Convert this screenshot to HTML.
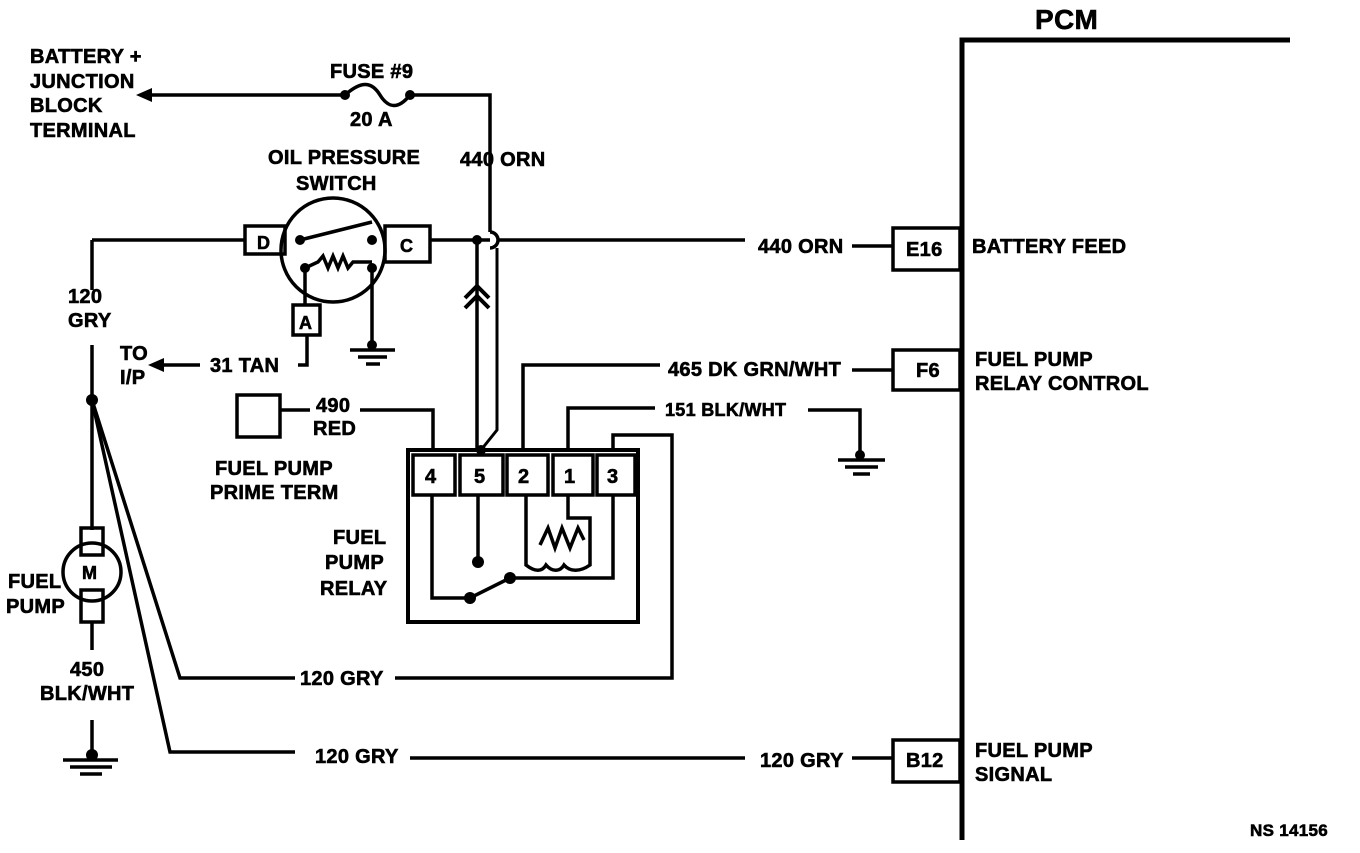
<!DOCTYPE html>
<html><head><meta charset="utf-8"><style>
body{margin:0;background:#fff}
svg text{font-family:"Liberation Sans",sans-serif;font-weight:bold;font-size:20px;letter-spacing:0.3px;fill:#000;stroke:#000;stroke-width:0.6px}
</style></head><body>
<svg width="1360" height="848" viewBox="0 0 1360 848" xmlns="http://www.w3.org/2000/svg">
<g fill="none" stroke="#000" stroke-width="3.5">
<!-- PCM -->
<path d="M962 840V40H1290" stroke-width="5"/>
<rect x="893" y="228" width="67" height="42"/>
<rect x="893" y="350" width="67" height="40"/>
<rect x="893" y="740" width="67" height="42"/>
<!-- battery/fuse -->
<path d="M150 95H345"/>
<path d="M345 95C362 80 372 82 380 95S398 110 410 95"/>
<path d="M410 95H490V232"/>
<path d="M490 232a8 8 0 0 1 0 16"/>
<path d="M497 248V430L481 450" stroke-width="3"/>
<!-- main horizontal -->
<path d="M92 240H245"/>
<rect x="245" y="226" width="40" height="28"/>
<circle cx="333" cy="250" r="52"/>
<rect x="385" y="226" width="45" height="36"/>
<path d="M430 240H490M498 240H745M852 246H893"/>
<path d="M300 240L372 222M305 268L318 262L323 256L328 268L333 256L338 268L343 256L348 268L353 262H372"/>
<path d="M305 268V305M372 268V345"/>
<rect x="293" y="305" width="27" height="30"/>
<path d="M307 335V365H298"/>
<path d="M200 365H155"/>
<!-- chevron line -->
<path d="M477 240V450"/>
<path d="M465 298L477 286L489 298M465 308L477 296L489 308" stroke-width="4"/>
<!-- ground switch -->
<path d="M350 350H395M358 357H387M366 364H380"/>
<!-- left -->
<path d="M92 240V290M92 345V530M92 622V650M92 720V755"/>
<rect x="81" y="528" width="22" height="27"/>
<circle cx="92" cy="572" r="29"/>
<rect x="81" y="590" width="22" height="32"/>
<path d="M63 760H118M70 767H112M80 774H102"/>
<path d="M92 400L180 678H295M395 678H672V435H613V450"/>
<path d="M92 400L170 752H295M410 758H745M852 758H893"/>
<!-- 490 red -->
<rect x="237" y="395" width="43" height="42"/>
<path d="M280 410H310M360 410H433V450"/>
<!-- relay -->
<rect x="408" y="450" width="230" height="172" stroke-width="4"/>
<rect x="413" y="455" width="42" height="40"/>
<rect x="460" y="455" width="43" height="40"/>
<rect x="507" y="455" width="41" height="40"/>
<rect x="553" y="455" width="40" height="40"/>
<rect x="597" y="455" width="38" height="40"/>
<path d="M523 450V365H660M852 370H893"/>
<path d="M568 450V408H655M808 410H860V455"/>
<path d="M838 460H885M845 467H878M853 474H870"/>
<path d="M432 495V598H470L510 578H613V495"/>
<path d="M478 495V560"/>
<path d="M526 495V565C535 572 542 572 546 565C552 572 560 572 564 565C570 572 580 572 590 565V518H568V495"/>
<path d="M540 545L548 528L555 548L562 528L570 548L578 528L584 540"/>
</g>
<g fill="#000">
<path d="M136 95L152 88V102Z"/>
<path d="M148 365L164 358V372Z"/>
<circle cx="345" cy="95" r="5"/><circle cx="410" cy="95" r="5"/>
<circle cx="300" cy="240" r="5"/><circle cx="372" cy="240" r="5"/>
<circle cx="305" cy="268" r="5"/><circle cx="372" cy="268" r="5"/>
<circle cx="372" cy="345" r="5"/>
<circle cx="477" cy="240" r="5"/><circle cx="481" cy="450" r="5"/>
<circle cx="92" cy="400" r="6"/><circle cx="92" cy="755" r="6"/>
<circle cx="860" cy="455" r="5"/>
<circle cx="478" cy="562" r="6"/><circle cx="470" cy="598" r="6"/><circle cx="510" cy="578" r="6"/>
</g>
<text x="1035" y="29" style="font-size:28px">PCM</text>
<text x="30" y="63">BATTERY +</text>
<text x="30" y="88">JUNCTION</text>
<text x="30" y="112">BLOCK</text>
<text x="30" y="137">TERMINAL</text>
<text x="330" y="78">FUSE #9</text>
<text x="350" y="126">20 A</text>
<text x="460" y="166">440 ORN</text>
<text x="268" y="164">OIL PRESSURE</text>
<text x="296" y="190">SWITCH</text>
<text x="257" y="249" style="font-size:18px">D</text>
<text x="400" y="252" style="font-size:18px">C</text>
<text x="299" y="329" style="font-size:18px">A</text>
<text x="758" y="253">440 ORN</text>
<text x="906" y="256">E16</text>
<text x="972" y="253">BATTERY FEED</text>
<text x="68" y="303">120</text>
<text x="68" y="327">GRY</text>
<text x="120" y="360">TO</text>
<text x="120" y="384">I/P</text>
<text x="210" y="372">31 TAN</text>
<text x="668" y="376">465 DK GRN/WHT</text>
<text x="916" y="377">F6</text>
<text x="975" y="366">FUEL PUMP</text>
<text x="975" y="390">RELAY CONTROL</text>
<text x="665" y="416" style="font-size:18px">151 BLK/WHT</text>
<text x="316" y="412">490</text>
<text x="313" y="435">RED</text>
<text x="215" y="475">FUEL PUMP</text>
<text x="210" y="499">PRIME TERM</text>
<text x="425" y="483">4</text>
<text x="474" y="483">5</text>
<text x="518" y="483">2</text>
<text x="564" y="483">1</text>
<text x="607" y="483">3</text>
<text x="333" y="544">FUEL</text>
<text x="325" y="569">PUMP</text>
<text x="320" y="595">RELAY</text>
<text x="82" y="579" style="font-size:18px">M</text>
<text x="8" y="588">FUEL</text>
<text x="6" y="613">PUMP</text>
<text x="70" y="676">450</text>
<text x="40" y="700">BLK/WHT</text>
<text x="300" y="685">120 GRY</text>
<text x="315" y="763">120 GRY</text>
<text x="760" y="767">120 GRY</text>
<text x="906" y="767">B12</text>
<text x="975" y="757">FUEL PUMP</text>
<text x="975" y="781">SIGNAL</text>
<text x="1250" y="836" style="font-size:17px">NS 14156</text>
</svg>
</body></html>
